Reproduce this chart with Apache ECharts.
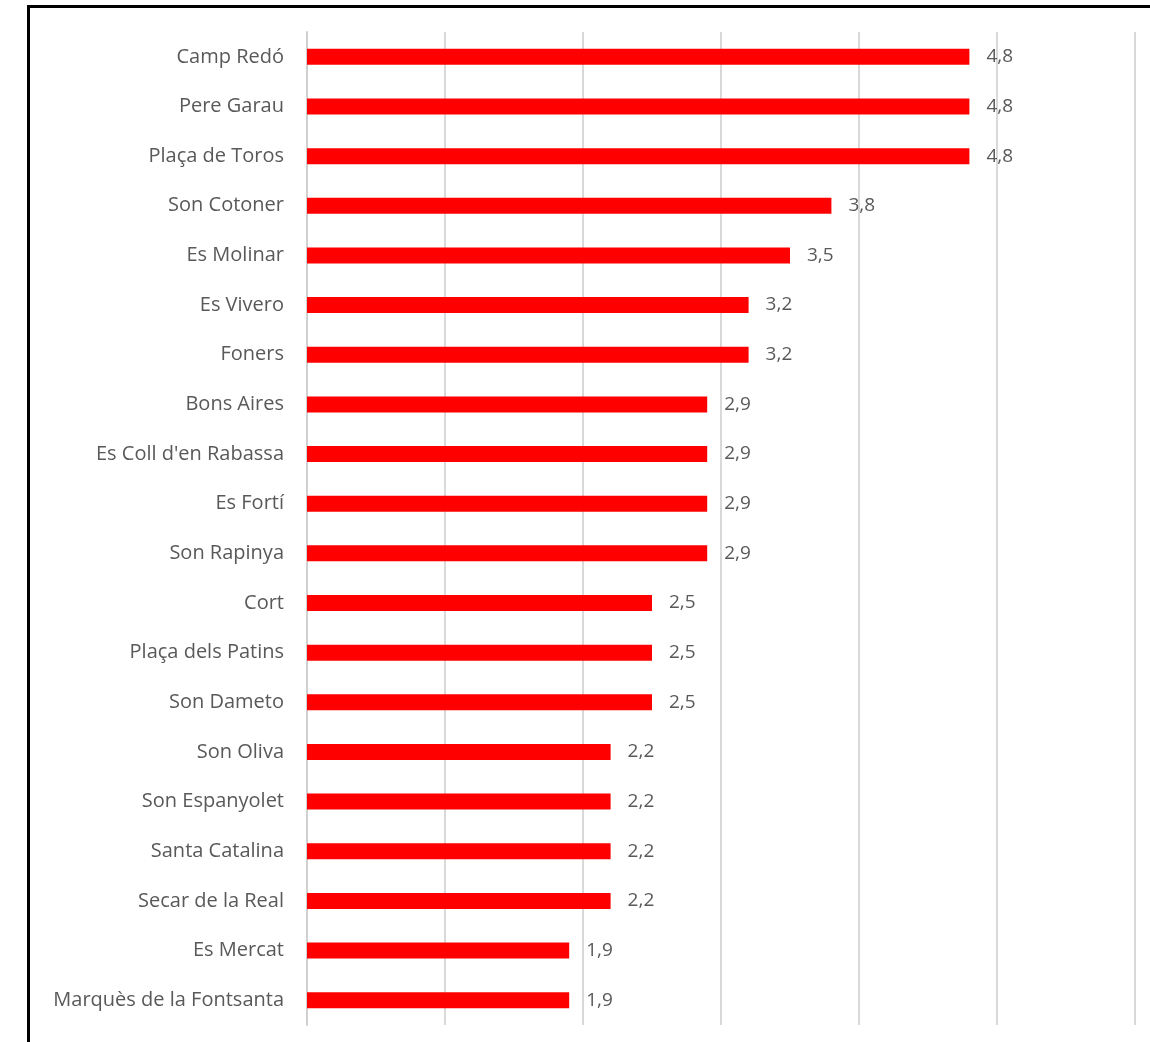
<!DOCTYPE html>
<html>
<head>
  <meta charset="UTF-8">
  <title>Barrios</title>
  <script src="https://cdn.jsdelivr.net/npm/echarts@6/dist/echarts.min.js"></script>
  <style>
    html, body { margin: 0; padding: 0; background: #fff; }
    #frame {
      position: absolute; left: 27px; top: 5px; width: 1130px; height: 1045px;
      border-left: 3px solid #000; border-top: 3px solid #000;
    }
    #main { position: absolute; left: 0; top: 0; width: 1150px; height: 1042px; }
  </style>
</head>
<body>
<div id="frame"></div>
<div id="main"></div>
<script>
  var barrios = ['Camp Redó', 'Pere Garau', 'Plaça de Toros', 'Son Cotoner', 'Es Molinar', 'Es Vivero',
    'Foners', 'Bons Aires', "Es Coll d'en Rabassa", 'Es Fortí', 'Son Rapinya', 'Cort',
    'Plaça dels Patins', 'Son Dameto', 'Son Oliva', 'Son Espanyolet', 'Santa Catalina',
    'Secar de la Real', 'Es Mercat', 'Marquès de la Fontsanta'];
  var valores = [4.8, 4.8, 4.8, 3.8, 3.5, 3.2, 3.2, 2.9, 2.9, 2.9, 2.9, 2.5, 2.5, 2.5, 2.2, 2.2, 2.2, 2.2, 1.9, 1.9];

  var chart = echarts.init(document.getElementById('main'));
  chart.setOption({
    animation: false,
    grid: { left: 307, right: 15, top: 32, bottom: 17 },
    xAxis: {
      type: 'value', min: 0, max: 6, interval: 1,
      axisLabel: { show: false },
      axisLine: { show: false },
      axisTick: { show: false },
      splitLine: { lineStyle: { color: '#d9d9d9', width: 2 } }
    },
    yAxis: {
      type: 'category', data: barrios, inverse: true,
      axisLine: { lineStyle: { color: '#d0d0d0', width: 2 } },
      axisTick: { show: false },
      axisLabel: { color: '#595959', fontSize: 20, fontFamily: 'Open Sans', margin: 23 }
    },
    series: [{
      type: 'bar', data: valores, barWidth: 16,
      itemStyle: { color: '#ff0000' },
      label: {
        show: true, position: 'right', distance: 17,
        color: '#595959', fontSize: 19, fontFamily: 'Open Sans',
        formatter: function (p) { return p.value.toFixed(1).replace('.', ','); }
      }
    }]
  });
</script>
</body>
</html>
